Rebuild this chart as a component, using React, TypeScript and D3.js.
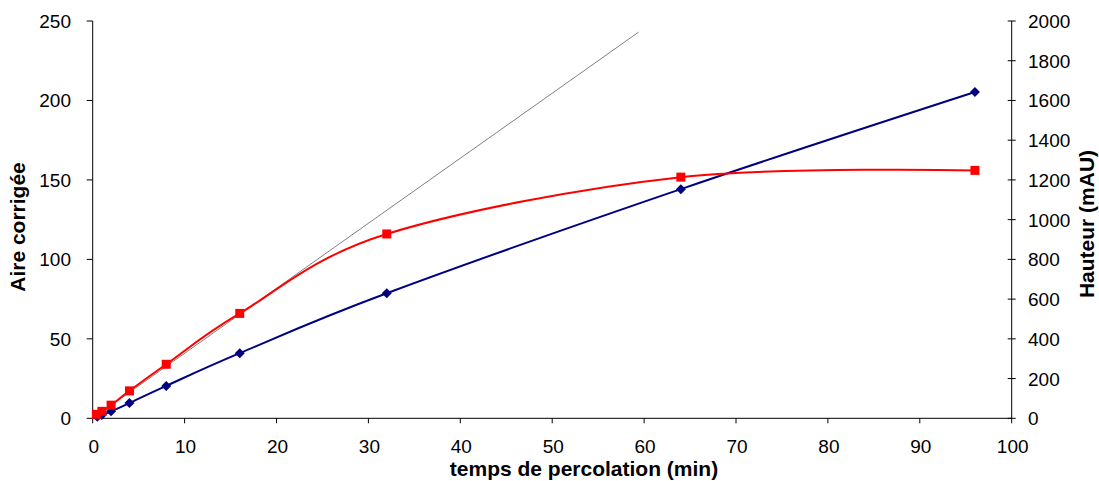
import React from "react";
import * as d3 from "d3";

const timeBlue = [0.5, 1, 2, 4, 8, 16, 32, 64, 96];
const aireBlue = [1, 2, 4.4, 9.6, 20.4, 41, 78.7, 144.2, 205.3];
const timeRed = [0.4, 1, 2, 4, 8, 16, 32, 64, 96];
const hauteurRed = [20, 35, 66, 138, 272, 528, 928, 1214, 1248];
const tangentX = [0, 59.4];
const tangentY = [0, 243];
const xTicks = [0, 10, 20, 30, 40, 50, 60, 70, 80, 90, 100];
const leftTicks = [0, 50, 100, 150, 200, 250];
const rightTicks = [0, 200, 400, 600, 800, 1000, 1200, 1400, 1600, 1800, 2000];

const W = 1099;
const H = 481;
const L = 92.7;
const R = 1011.7;
const T = 21;
const B = 418.3;
const FONT = "'Liberation Sans', Arial, sans-serif";
const TICK_FS = 19;
const TITLE_FS = 21;

export default function App() {
  const x = d3.scaleLinear().domain([0, 100]).range([L, R]);
  const yL = d3.scaleLinear().domain([0, 250]).range([B, T]);
  const yR = d3.scaleLinear().domain([0, 2000]).range([B, T]);

  const curve = d3.curveCatmullRom.alpha(0);
  const blueLine = d3
    .line<number>()
    .x((_, i) => x(timeBlue[i]))
    .y((d) => yL(d))
    .curve(curve)(aireBlue) as string;
  const redLine = d3
    .line<number>()
    .x((_, i) => x(timeRed[i]))
    .y((d) => yR(d))
    .curve(curve)(hauteurRed) as string;
  const tanLine = d3
    .line<number>()
    .x((_, i) => x(tangentX[i]))
    .y((d) => yL(d))(tangentY) as string;

  return (
    <svg width={W} height={H} style={{ position: "absolute", left: 0, top: 0 }} fontFamily={FONT}>
      <rect width={W} height={H} fill="#fff" />
      {/* axes */}
      <line x1={L} x2={L} y1={T} y2={B} stroke="#000" strokeWidth={1} />
      <line x1={R} x2={R} y1={T} y2={B} stroke="#000" strokeWidth={1} />
      <line x1={L} x2={R} y1={B} y2={B} stroke="#000" strokeWidth={1} />
      {xTicks.map((t) => (
        <g key={"x" + t}>
          <line x1={x(t)} x2={x(t)} y1={B} y2={B + 5} stroke="#000" />
          <text x={x(t) + 1} y={453} fontSize={TICK_FS} textAnchor="middle" fill="#000">
            {t}
          </text>
        </g>
      ))}
      {leftTicks.map((t) => (
        <g key={"l" + t}>
          <line x1={L - 6} x2={L} y1={yL(t)} y2={yL(t)} stroke="#000" />
          <text x={71} y={yL(t) + 7} fontSize={TICK_FS} textAnchor="end" fill="#000">
            {t}
          </text>
        </g>
      ))}
      {rightTicks.map((t) => (
        <g key={"r" + t}>
          <line x1={R - 4} x2={R + 4} y1={yR(t)} y2={yR(t)} stroke="#000" />
          <text x={1028} y={yR(t) + 7} fontSize={TICK_FS} textAnchor="start" fill="#000">
            {t}
          </text>
        </g>
      ))}
      <text x={584} y={476} fontSize={TITLE_FS} fontWeight="bold" textAnchor="middle">
        temps de percolation (min)
      </text>
      <text
        transform={`translate(25,227) rotate(-90)`}
        fontSize={TITLE_FS}
        fontWeight="bold"
        textAnchor="middle"
      >
        Aire corrigée
      </text>
      <text
        transform={`translate(1094,224) rotate(-90)`}
        fontSize={TITLE_FS}
        fontWeight="bold"
        textAnchor="middle"
      >
        Hauteur (mAU)
      </text>
      {/* tangent line */}
      <path d={tanLine} fill="none" stroke="#808080" strokeWidth={1} />
      {/* series */}
      <path d={blueLine} fill="none" stroke="#000080" strokeWidth={2} />
      <path d={redLine} fill="none" stroke="#ff0000" strokeWidth={2} />
      {aireBlue.map((v, i) => {
        const cx = x(timeBlue[i]);
        const cy = yL(v);
        const s = 5;
        return (
          <path
            key={"b" + i}
            d={`M${cx},${cy - s}L${cx + s},${cy}L${cx},${cy + s}L${cx - s},${cy}Z`}
            fill="#000080"
          />
        );
      })}
      {hauteurRed.map((v, i) => {
        const cx = x(timeRed[i]);
        const cy = yR(v);
        return <rect key={"r" + i} x={cx - 4.5} y={cy - 4.5} width={9} height={9} fill="#ff0000" />;
      })}
    </svg>
  );
}
